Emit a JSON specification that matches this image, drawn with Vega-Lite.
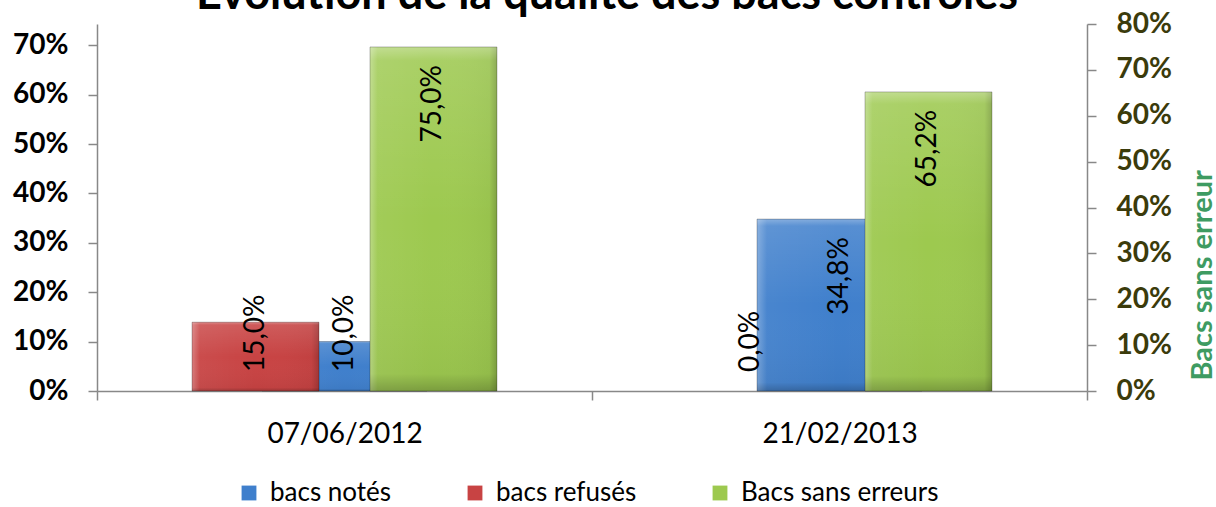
{
  "$schema": "https://vega.github.io/schema/vega-lite/v6.json",
  "autosize": "none",
  "width": 990,
  "height": 367,
  "padding": {"left": 97, "top": 24, "right": 129, "bottom": 116},
  "background": "white",
  "title": {
    "text": "Évolution de la qualité des bacs contrôlés",
    "font": "Lato",
    "fontSize": 45,
    "fontWeight": "bold",
    "color": "black",
    "anchor": "middle",
    "dx": 15,
    "baseline": "alphabetic",
    "offset": -44
  },
  "config": {
    "locale": {"number": {"decimal": ",", "thousands": " ", "grouping": [3], "currency": ["", " €"]}},
    "view": {"stroke": null},
    "axis": {"grid": false}
  },
  "data": {
    "values": [
      {"date": "07/06/2012", "serie": "bacs notés", "value": 0.10},
      {"date": "07/06/2012", "serie": "bacs refusés", "value": 0.15},
      {"date": "07/06/2012", "serie": "Bacs sans erreurs", "value": 0.75},
      {"date": "21/02/2013", "serie": "bacs notés", "value": 0.348},
      {"date": "21/02/2013", "serie": "bacs refusés", "value": 0.0},
      {"date": "21/02/2013", "serie": "Bacs sans erreurs", "value": 0.652}
    ]
  },
  "encoding": {
    "x": {
      "field": "date",
      "type": "nominal",
      "sort": null,
      "scale": {"paddingInner": 0, "paddingOuter": 0},
      "axis": {
        "title": null,
        "labelAngle": 0,
        "labelFont": "Lato",
        "labelFontSize": 28,
        "labelColor": "black",
        "labelPadding": 20,
        "tickBand": "extent",
        "tickSize": 9,
        "tickColor": "#888888",
        "tickWidth": 1.5,
        "domainColor": "#888888",
        "domainWidth": 1.5
      }
    }
  },
  "layer": [
    {
      "transform": [{"filter": "datum.serie === 'bacs notés'"}],
      "encoding": {
        "xOffset": {"field": "serie", "type": "nominal", "scale": {"domain": ["bacs notés"], "paddingInner": 0, "paddingOuter": 1.449}},
        "y": {
          "field": "value",
          "type": "quantitative",
          "scale": {"domain": [0, 0.743], "nice": false, "zero": true},
          "axis": {
            "orient": "left",
            "title": null,
            "values": [0, 0.1, 0.2, 0.3, 0.4, 0.5, 0.6, 0.7],
            "format": ".0%",
            "labelFont": "Lato",
            "labelFontSize": 28,
            "labelFontWeight": "bold",
            "labelColor": "black",
            "labelPadding": 20,
            "tickSize": 9,
            "tickColor": "#888888",
            "tickWidth": 1.5,
            "domainColor": "#888888",
            "domainWidth": 1.5
          }
        }
      },
      "layer": [
        {
          "transform": [{"filter": "datum.value > 0"}],
          "mark": {"type": "bar"},
          "encoding": {
            "color": {
              "field": "serie",
              "type": "nominal",
              "scale": {"domain": ["bacs notés", "bacs refusés", "Bacs sans erreurs"], "range": ["#3F7FCC", "#C84343", "#9DC94F"]},
              "legend": {
                "orient": "none",
                "legendX": 139,
                "legendY": 456,
                "direction": "horizontal",
                "columns": 3,
                "title": null,
                "labelFont": "Lato",
                "labelFontSize": 26,
                "labelColor": "black",
                "labelLimit": 400,
                "symbolType": "square",
                "symbolSize": 220,
                "symbolStrokeWidth": 0,
                "columnPadding": 70,
                "labelOffset": 8
              }
            }
          }
        },
        {
          "transform": [{"filter": "datum.value > 0"}],
          "mark": {
            "type": "bar",
            "fill": {
              "gradient": "linear", "x1": 0, "y1": 0, "x2": 1, "y2": 0,
              "stops": [
                {"offset": 0, "color": "rgba(255,255,255,0.3)"},
                {"offset": 0.06, "color": "rgba(255,255,255,0.05)"},
                {"offset": 0.5, "color": "rgba(255,255,255,0)"},
                {"offset": 0.94, "color": "rgba(0,0,0,0.03)"},
                {"offset": 1, "color": "rgba(0,0,0,0.2)"}
              ]
            }
          }
        },
        {
          "transform": [{"filter": "datum.value > 0"}],
          "mark": {
            "type": "bar",
            "stroke": "rgba(0,0,0,0.25)",
            "strokeWidth": 1,
            "fill": {
              "gradient": "linear", "x1": 0, "y1": 0, "x2": 0, "y2": 1,
              "stops": [
                {"offset": 0, "color": "rgba(255,255,255,0.35)"},
                {"offset": 0.04, "color": "rgba(255,255,255,0.12)"},
                {"offset": 0.5, "color": "rgba(255,255,255,0)"},
                {"offset": 0.95, "color": "rgba(0,0,0,0.04)"},
                {"offset": 1, "color": "rgba(0,0,0,0.22)"}
              ]
            }
          }
        },
        {
          "transform": [{"filter": "datum.value >= 0.25"}],
          "mark": {"type": "text", "angle": 270, "align": "right", "baseline": "middle", "dx": -18, "font": "Lato", "fontSize": 28, "color": "black"},
          "encoding": {"text": {"field": "value", "type": "quantitative", "format": ".1%"}}
        },
        {
          "transform": [{"filter": "datum.value < 0.25"}],
          "mark": {"type": "text", "angle": 270, "align": "left", "baseline": "middle", "dx": 19, "font": "Lato", "fontSize": 28, "color": "black"},
          "encoding": {
            "y": {"datum": 0, "type": "quantitative"},
            "text": {"field": "value", "type": "quantitative", "format": ".1%"}
          }
        }
      ]
    },
    {
      "transform": [{"filter": "datum.serie !== 'bacs notés'"}],
      "encoding": {
        "xOffset": {"field": "serie", "type": "nominal", "scale": {"domain": ["bacs refusés", "Bacs sans erreurs"], "paddingInner": 0.2865, "paddingOuter": 0.534}},
        "y": {
          "field": "value",
          "type": "quantitative",
          "scale": {"domain": [0, 0.8], "nice": false, "zero": true},
          "axis": {
            "orient": "right",
            "title": "Bacs sans erreur",
            "titleColor": "#3E9B62",
            "titleFont": "Lato",
            "titleFontSize": 29,
            "titleFontWeight": "bold",
            "titleAngle": 270,
            "titleAlign": "left",
            "titleBaseline": "alphabetic",
            "titleX": 124,
            "titleY": 356,
            "values": [0, 0.1, 0.2, 0.3, 0.4, 0.5, 0.6, 0.7, 0.8],
            "format": ".0%",
            "labelFont": "Lato",
            "labelFontSize": 28,
            "labelFontWeight": "bold",
            "labelColor": "#3B3B0B",
            "labelPadding": 20,
            "tickSize": 9,
            "tickColor": "#888888",
            "tickWidth": 1.5,
            "domainColor": "#888888",
            "domainWidth": 1.5
          }
        }
      },
      "layer": [
        {
          "transform": [{"filter": "datum.value > 0"}],
          "mark": {"type": "bar"},
          "encoding": {
            "color": {
              "field": "serie",
              "type": "nominal",
              "scale": {"domain": ["bacs notés", "bacs refusés", "Bacs sans erreurs"], "range": ["#3F7FCC", "#C84343", "#9DC94F"]}
            }
          }
        },
        {
          "transform": [{"filter": "datum.value > 0"}],
          "mark": {
            "type": "bar",
            "fill": {
              "gradient": "linear", "x1": 0, "y1": 0, "x2": 1, "y2": 0,
              "stops": [
                {"offset": 0, "color": "rgba(255,255,255,0.3)"},
                {"offset": 0.06, "color": "rgba(255,255,255,0.05)"},
                {"offset": 0.5, "color": "rgba(255,255,255,0)"},
                {"offset": 0.94, "color": "rgba(0,0,0,0.03)"},
                {"offset": 1, "color": "rgba(0,0,0,0.2)"}
              ]
            }
          }
        },
        {
          "transform": [{"filter": "datum.value > 0"}],
          "mark": {
            "type": "bar",
            "stroke": "rgba(0,0,0,0.25)",
            "strokeWidth": 1,
            "fill": {
              "gradient": "linear", "x1": 0, "y1": 0, "x2": 0, "y2": 1,
              "stops": [
                {"offset": 0, "color": "rgba(255,255,255,0.35)"},
                {"offset": 0.04, "color": "rgba(255,255,255,0.12)"},
                {"offset": 0.5, "color": "rgba(255,255,255,0)"},
                {"offset": 0.95, "color": "rgba(0,0,0,0.04)"},
                {"offset": 1, "color": "rgba(0,0,0,0.22)"}
              ]
            }
          }
        },
        {
          "transform": [{"filter": "datum.value >= 0.25"}],
          "mark": {"type": "text", "angle": 270, "align": "right", "baseline": "middle", "dx": -18, "font": "Lato", "fontSize": 28, "color": "black"},
          "encoding": {"text": {"field": "value", "type": "quantitative", "format": ".1%"}}
        },
        {
          "transform": [{"filter": "datum.value < 0.25"}],
          "mark": {"type": "text", "angle": 270, "align": "left", "baseline": "middle", "dx": 19, "font": "Lato", "fontSize": 28, "color": "black"},
          "encoding": {
            "y": {"datum": 0, "type": "quantitative"},
            "text": {"field": "value", "type": "quantitative", "format": ".1%"}
          }
        }
      ]
    }
  ],
  "resolve": {"scale": {"y": "independent", "xOffset": "independent"}, "axis": {"y": "independent"}}
}
